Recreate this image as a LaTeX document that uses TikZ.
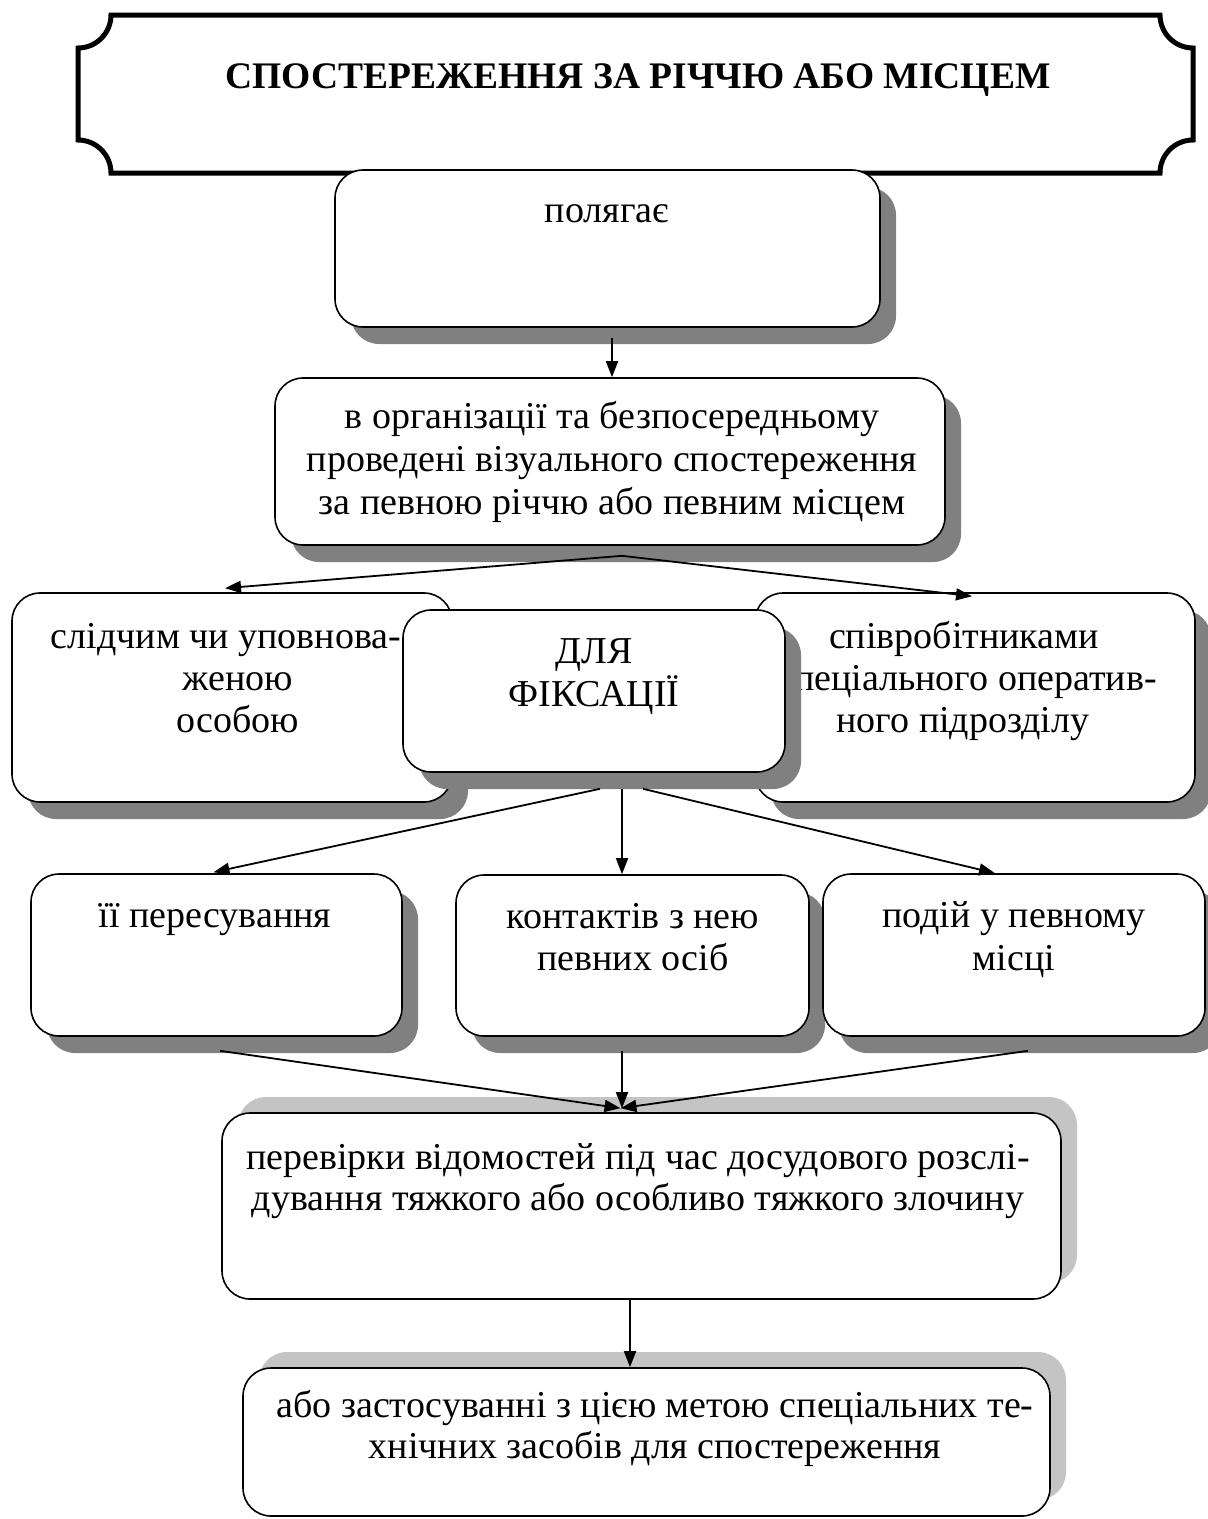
\documentclass[tikz,border=0pt]{standalone}
\usepackage{fontspec}
\setmainfont{Liberation Serif}
\usetikzlibrary{shadows,arrows.meta,calc}
\definecolor{shadowdark}{RGB}{128,128,128}
\definecolor{shadowlight}{RGB}{196,196,196}
\begin{document}
\begin{tikzpicture}[x=1pt,y=-1pt,
  box/.style={draw, line width=1.6pt, rounded corners=28pt, fill=white, inner sep=0pt},
  dsh/.style={drop shadow={shadow xshift=16pt,shadow yshift=-17pt,fill=shadowdark,opacity=1}},
  lsh/.style={drop shadow={shadow xshift=16pt,shadow yshift=16pt,fill=shadowlight,opacity=1}},
  txt/.style={anchor=base, inner sep=0pt, font=\fontsize{38}{42}\selectfont},
  ttl/.style={anchor=base, inner sep=0pt, font=\fontsize{37.5}{42}\selectfont\bfseries},
  arr/.style={line width=1.8pt, -{Triangle[length=16pt,width=12pt]}}]
\useasboundingbox (0,0) rectangle (1208,1519);

% title plaque
\draw[line width=5pt, fill=white] (111,15) -- (1160,15)
  .. controls (1160,33.2) and (1174.8,48) .. (1193,48) -- (1193,140)
  .. controls (1174.8,140) and (1160,154.8) .. (1160,173) -- (111,173)
  .. controls (111,154.8) and (96.2,140) .. (78,140) -- (78,48)
  .. controls (96.2,48) and (111,33.2) .. (111,15) -- cycle;
\node[ttl] (title) at (638,88) {СПОСТЕРЕЖЕННЯ ЗА РІЧЧЮ АБО МІСЦЕМ};

% box A
\node[box,dsh,minimum width=545pt,minimum height=157pt] (bA) at (607.5,248.5) {};
\node[txt] (tA) at (607,222) {полягає};

% box B
\node[box,dsh,minimum width=670pt,minimum height=167pt] (bB) at (610,461.5) {};
\node[txt] (tB1) at (612,428) {в організації та безпосередньому};
\node[txt] (tB2) at (612,471) {проведені візуального спостереження};
\node[txt] (tB3) at (612,514) {за певною річчю або певним місцем};

% left box
\node[box,dsh,minimum width=440pt,minimum height=209pt] (bL) at (232,697.5) {};
\node[txt] (tL1) at (226,648) {слідчим чи уповнова-};
\node[txt] (tL2) at (238,690) {женою};
\node[txt] (tL3) at (238,732) {особою};

% right box
\node[box,dsh,minimum width=440pt,minimum height=209pt] (bR) at (975,697.5) {};
\node[txt] (tR1) at (964,648) {співробітниками};
\node[txt] (tR2) at (967,690) {спеціального оператив-};
\node[txt] (tR3) at (963,732) {ного підрозділу};

% middle box
\node[box,dsh,minimum width=382pt,minimum height=162pt] (bF) at (594,691) {};
\node[txt] (tF1) at (594,663) {ДЛЯ};
\node[txt] (tF2) at (594,706) {ФІКСАЦІЇ};

% row 3
\node[box,dsh,minimum width=371pt,minimum height=162pt] (bM1) at (216.5,955) {};
\node[txt] (tM1) at (215,927) {її пересування};
\node[box,dsh,minimum width=353pt,minimum height=161pt] (bM2) at (632.5,955.5) {};
\node[txt] (tM2a) at (633,928) {контактів з нею};
\node[txt] (tM2b) at (633,970) {певних осіб};
\node[box,dsh,minimum width=382pt,minimum height=162pt] (bM3) at (1014,955) {};
\node[txt] (tM3a) at (1014,927) {подій у певному};
\node[txt] (tM3b) at (1014,970) {місці};

% box P
\node[box,lsh,minimum width=839pt,minimum height=186pt] (bP) at (641.5,1206) {};
\node[txt] (tP1) at (638,1169) {перевірки відомостей під час досудового розслі-};
\node[txt] (tP2) at (638,1210) {дування тяжкого або особливо тяжкого злочину};

% box Z
\node[box,lsh,minimum width=807pt,minimum height=148pt] (bZ) at (646.5,1442) {};
\node[txt] (tZ1) at (655,1417) {або застосуванні з цією метою спеціальних те-};
\node[txt] (tZ2) at (655,1458) {хнічних засобів для спостереження};

% connectors
\coordinate (sA) at ($(bA.south)+(4.5,10)$);
\draw[arr] (sA) -- (sA |- bB.north);

\coordinate (sB) at ($(bB.south)+(12,10)$);
\draw[arr] (sB) -- ($(bL.north)+(-7,-4)$);
\draw[arr] (sB) -- ($(bR.north)+(-3,4)$);

\coordinate (sF1) at ($(bF.south)+(6,16)$);
\coordinate (sF2) at ($(bF.south)+(28,16)$);
\coordinate (sF3) at ($(bF.south)+(49,16)$);
\draw[arr] (sF1) -- ($(bM1.north)+(-3,-1)$);
\draw[arr] (sF2) -- (sF2 |- bM2.north);
\draw[arr] (sF3) -- ($(bM3.north)+(-19,0)$);

\coordinate (eP) at ($(bP.north)+(-21,-4)$);
\coordinate (sM1) at ($(bM1.south)+(3.5,14)$);
\coordinate (sM2) at ($(bM2.south)+(-10.5,14)$);
\coordinate (sM3) at ($(bM3.south)+(14,14)$);
\draw[arr] (sM1) -- (eP);
\draw[arr] (sM2) -- (sM2 |- eP);
\draw[arr] (sM3) -- (eP);

\coordinate (sP) at ($(bP.south)+(-11.5,0)$);
\draw[arr] (sP) -- (sP |- bZ.north);
\end{tikzpicture}
\end{document}
